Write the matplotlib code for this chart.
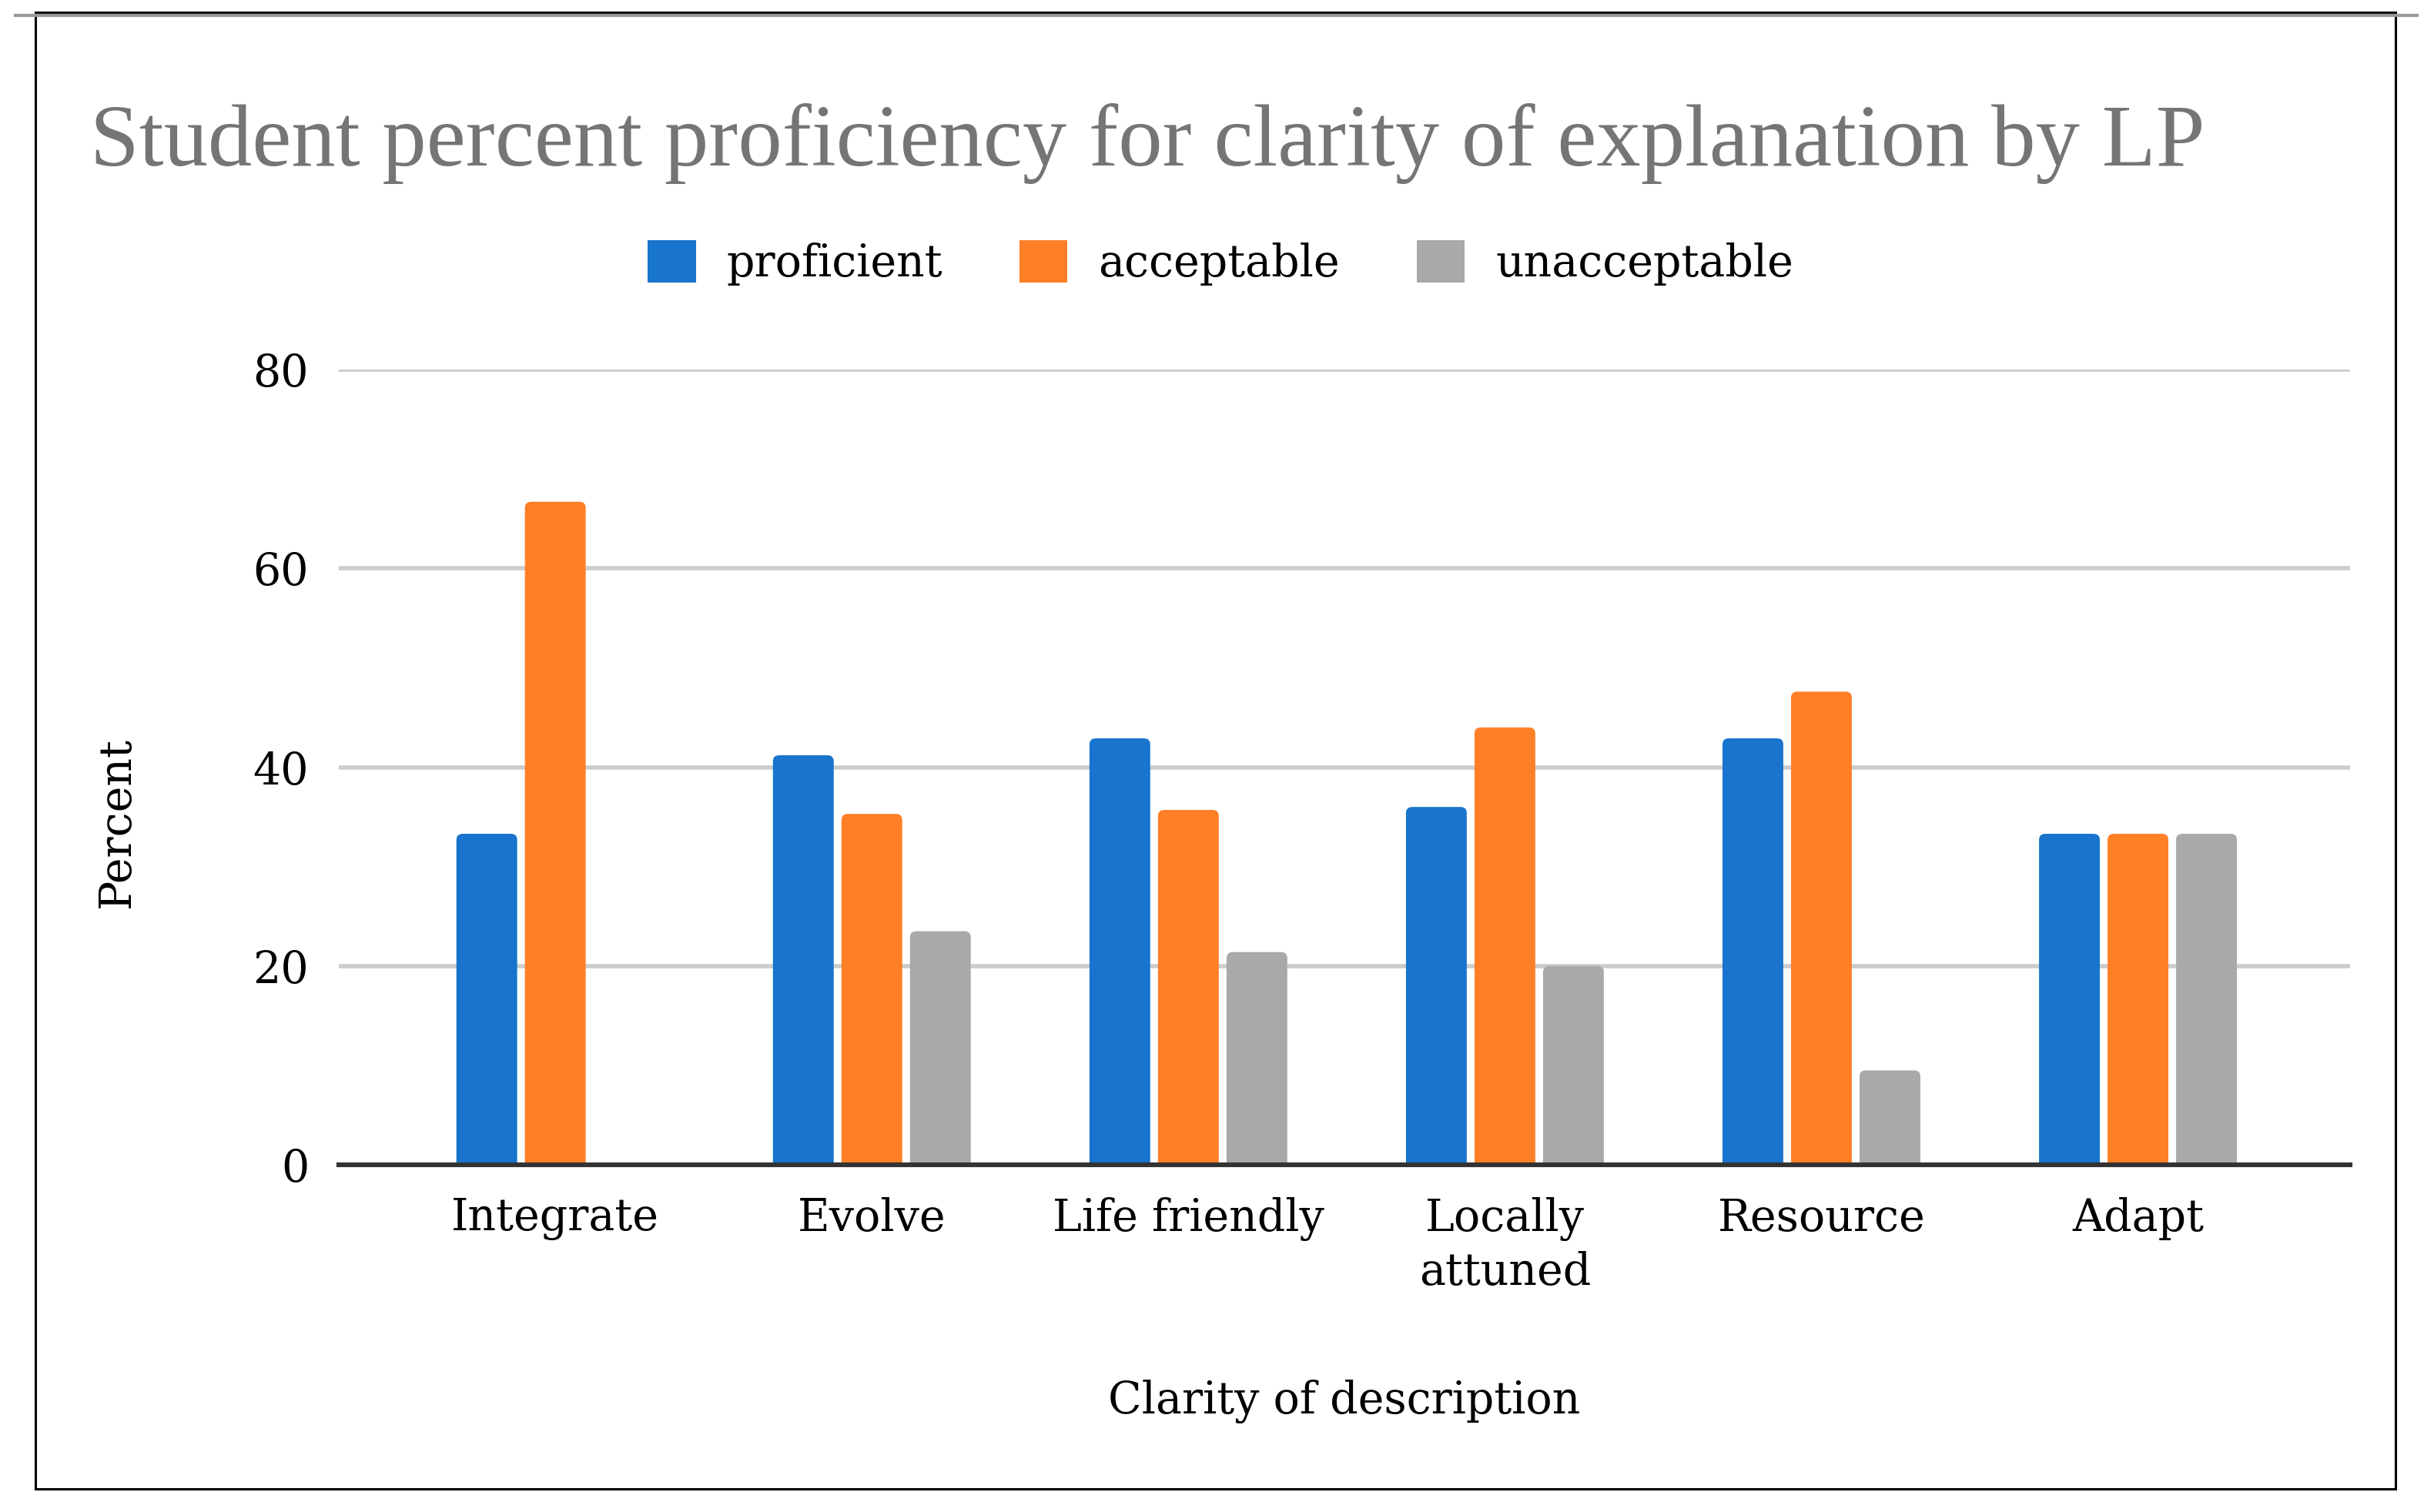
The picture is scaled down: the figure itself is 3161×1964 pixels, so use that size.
import numpy as np
import matplotlib.pyplot as plt
from matplotlib.patches import FancyBboxPatch, Rectangle, Patch
from matplotlib.lines import Line2D

# data
categories = ["Integrate", "Evolve", "Life friendly", "Locally\nattuned", "Resource", "Adapt"]
proficient = [33.3, 41.2, 42.9, 36.0, 42.9, 33.3]
acceptable = [66.7, 35.3, 35.7, 44.0, 47.6, 33.3]
unacceptable = [0.0, 23.5, 21.4, 20.0, 9.5, 33.3]
series_names = ["proficient", "acceptable", "unacceptable"]
yticks = [0, 20, 40, 60, 80]

colors = ["#1874CD", "#FF7F27", "#A9A9A9"]
plt.rcParams["font.family"] = ["DejaVu Serif"]
lab_size = 20.5

fig = plt.figure(figsize=(15.805, 9.82), dpi=200)
ax = fig.add_axes([0.1392, 0.2296, 0.8263, 0.526])

x = np.arange(len(categories))
width = 0.192
pitch = 0.2165
all_series = [proficient, acceptable, unacceptable]

for i, (vals, col) in enumerate(zip(all_series, colors)):
    for xi, v in zip(x, vals):
        if v <= 0:
            continue
        left = xi + (i - 1) * pitch - width / 2
        # rounded top, bottom pushed below zero and clipped by the axes
        box = FancyBboxPatch((left, -2), width, v + 2,
                             boxstyle="round,pad=0,rounding_size=0.02",
                             mutation_aspect=30, facecolor=col,
                             edgecolor="none", zorder=3)
        ax.add_patch(box)

ax.set_xlim(-0.684, 5.67)
ax.set_ylim(0, 80)
ax.set_yticks(yticks)
ax.set_yticklabels([str(t) for t in yticks])
ax.set_xticks(x)
ax.set_xticklabels(categories, linespacing=1.3)

ax.grid(axis="y", color="#CCCCCC", linewidth=2, zorder=0)
ax.set_axisbelow(True)
for s in ["top", "right", "left"]:
    ax.spines[s].set_visible(False)
ax.spines["bottom"].set_color("#333333")
ax.spines["bottom"].set_linewidth(2.2)
ax.spines["bottom"].set_zorder(4)
ax.tick_params(axis="both", length=0, labelsize=lab_size, colors="black")
ax.tick_params(axis="y", pad=14)
ax.tick_params(axis="x", pad=15)

ax.set_xlabel("Clarity of description", fontsize=lab_size, labelpad=40)
fig.text(0.048, 0.456, "Percent", rotation=90, fontsize=lab_size,
         ha="center", va="center")

fig.text(0.037, 0.8905, "Student percent proficiency for clarity of explanation by LP",
         fontsize=41.3, color="#757575", va="baseline", ha="left",
         family="Liberation Serif")

handles = [Patch(facecolor=c, edgecolor="none") for c in colors]
fig.legend(handles, series_names, loc="center", bbox_to_anchor=(0.5014, 0.826),
           ncol=3, frameon=False, fontsize=lab_size, handlelength=1.1,
           handleheight=1.1, handletextpad=0.7, columnspacing=1.75)

# outer frame like the screenshot
fig.patches.append(Rectangle((46 / 3161, 1 - 1934 / 1964), (3111 - 46) / 3161,
                             (1934 - 16) / 1964, transform=fig.transFigure,
                             fill=False, edgecolor="black", linewidth=1.1))
fig.lines.append(Line2D([20 / 3161, 3139 / 3161], [1 - 20 / 1964, 1 - 20 / 1964],
                        transform=fig.transFigure, color="#999999", linewidth=1.5))

fig.savefig("out.png", dpi=200, facecolor="white")
